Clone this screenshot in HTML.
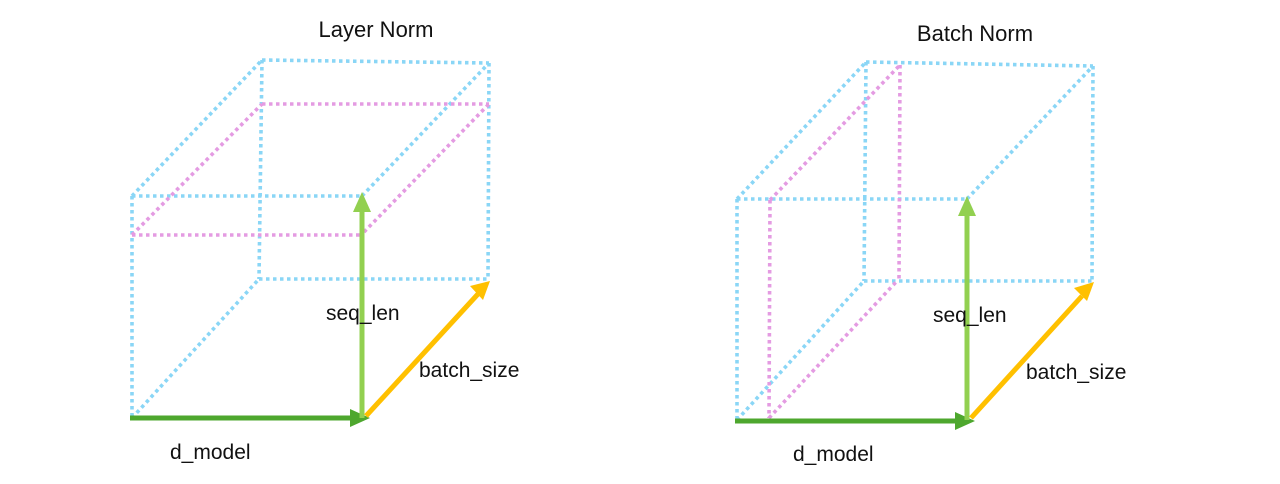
<!DOCTYPE html>
<html><head><meta charset="utf-8"><style>
html,body{margin:0;padding:0;background:#fff;}
svg{display:block;font-family:"Liberation Sans",sans-serif;}
.b{stroke:#8ad6f6;stroke-width:3.6;stroke-dasharray:3.5 3.5;fill:none;}
.p{stroke:#e49be2;stroke-width:3.6;stroke-dasharray:3.5 3.5;fill:none;}
text{font-size:21px;fill:#111;}
.t{font-size:22px;}
</style></head><body>
<svg width="1280" height="484" viewBox="0 0 1280 484">

<g>
<text class="t" x="376" y="37" text-anchor="middle">Layer Norm</text>
<g>
<line class="b" x1="132" y1="196" x2="362" y2="196"/>
<line class="b" x1="132" y1="196" x2="262" y2="60"/>
<line class="b" x1="362" y1="196" x2="489" y2="63"/>
<line class="b" x1="262" y1="60" x2="489" y2="63"/>
<line class="b" x1="262" y1="60" x2="259" y2="279"/>
<line class="b" x1="489" y1="63" x2="488" y2="279"/>
<line class="b" x1="259" y1="279" x2="488" y2="279"/>
<line class="b" x1="132" y1="418" x2="259" y2="279"/>
<line class="b" x1="132" y1="196" x2="132" y2="418"/>
</g>
<g>
<line class="p" x1="132" y1="235" x2="362" y2="235"/>
<line class="p" x1="262" y1="104" x2="489" y2="104"/>
<line class="p" x1="132" y1="235" x2="262" y2="104"/>
<line class="p" x1="364" y1="232" x2="489" y2="104"/>
</g>
<g>
<line x1="130" y1="418" x2="352" y2="418" stroke="#4ea72e" stroke-width="5"/>
<polygon points="350,409 370,418 350,427" fill="#4ea72e"/>
</g>
<g>
<line x1="362" y1="418" x2="362" y2="210" stroke="#92d050" stroke-width="5"/>
<polygon points="353,212 362,192 371,212" fill="#92d050"/>
</g>
<g>
<line x1="366" y1="416" x2="478" y2="294" stroke="#ffc000" stroke-width="5"/>
<polygon points="470,286 490,281 483,300" fill="#ffc000"/>
</g>
<text x="326" y="320">seq_len</text>
<text x="419" y="377">batch_size</text>
<text x="170" y="459">d_model</text>
</g>

<g>
<text class="t" x="975" y="41" text-anchor="middle">Batch Norm</text>
<g>
<line class="b" x1="737" y1="199" x2="967" y2="199"/>
<line class="b" x1="737" y1="199" x2="866" y2="62"/>
<line class="b" x1="967" y1="199" x2="1093" y2="66"/>
<line class="b" x1="866" y1="62" x2="1093" y2="66"/>
<line class="b" x1="866" y1="62" x2="864" y2="281"/>
<line class="b" x1="1093" y1="66" x2="1092" y2="281"/>
<line class="b" x1="864" y1="281" x2="1092" y2="281"/>
<line class="b" x1="737" y1="420" x2="864" y2="281"/>
<line class="b" x1="737" y1="199" x2="737" y2="420"/>
</g>
<g>
<line class="p" x1="770" y1="200" x2="769" y2="418"/>
<line class="p" x1="900" y1="65" x2="899" y2="280"/>
<line class="p" x1="770" y1="200" x2="900" y2="65"/>
<line class="p" x1="769" y1="418" x2="897" y2="281"/>
</g>
<g>
<line x1="735" y1="421" x2="957" y2="421" stroke="#4ea72e" stroke-width="5"/>
<polygon points="955,412 975,421 955,430" fill="#4ea72e"/>
</g>
<g>
<line x1="967" y1="420" x2="967" y2="214" stroke="#92d050" stroke-width="5"/>
<polygon points="958,216 967,196 976,216" fill="#92d050"/>
</g>
<g>
<line x1="971" y1="418" x2="1082" y2="296" stroke="#ffc000" stroke-width="5"/>
<polygon points="1074,288 1094,282 1087,301" fill="#ffc000"/>
</g>
<text x="933" y="322">seq_len</text>
<text x="1026" y="379">batch_size</text>
<text x="793" y="461">d_model</text>
</g>
</svg>
</body></html>
